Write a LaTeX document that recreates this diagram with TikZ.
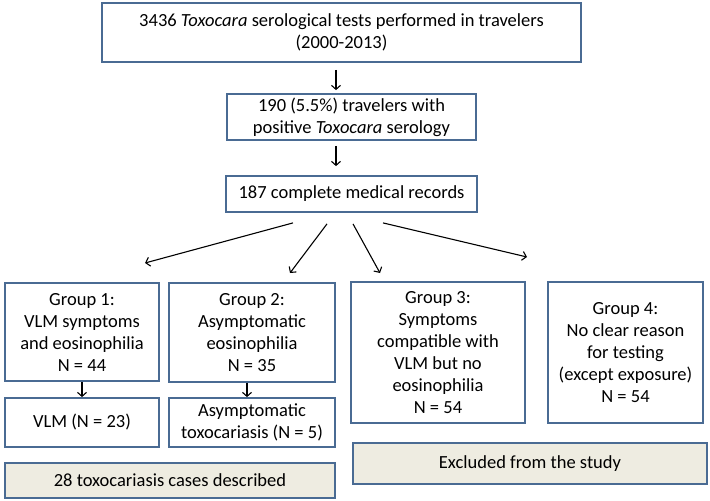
\documentclass[tikz,border=0pt]{standalone}
\usepackage{fontspec}
\setmainfont{Carlito}
\usetikzlibrary{arrows.meta}
\definecolor{boxline}{HTML}{4A6B93}
\definecolor{boxfill}{HTML}{EEECE1}
\tikzset{
  stage/.style={draw=boxline,line width=1.8pt,fill=white,align=center,inner sep=0pt,
    font=\fontsize{18.5}{22}\selectfont},
  summary/.style={stage,fill=boxfill},
  flow/.style={-{Straight Barb[length=4pt,width=9pt]},line width=1.1pt}
}

\begin{document}
\begin{tikzpicture}[x=1pt,y=-1pt]
\useasboundingbox (0,0) rectangle (710,501);

% top of the flow
\node[stage,minimum width=479pt,minimum height=59pt] (tests) at (341.5,32.5)
  {3436 \textit{Toxocara} serological tests performed in travelers\\(2000-2013)};
\node[stage,minimum width=249pt,minimum height=46pt] (positive) at (351.5,117)
  {190 (5.5\%) travelers with\\positive \textit{Toxocara} serology};
\node[stage,minimum width=251pt,minimum height=36pt] (records) at (351.5,194)
  {187 complete medical records};

\draw[flow] ([xshift=-5.5pt,yshift=-7pt]tests.south) -- ([xshift=-15.5pt,yshift=3pt]positive.north);
\draw[flow] ([xshift=-15.5pt,yshift=-5pt]positive.south) -- ([xshift=-15.5pt,yshift=9pt]records.north);

% the four groups
\node[stage,minimum width=154pt,minimum height=98pt] (grpA) at (82,332)
  {Group 1:\\VLM symptoms\\and eosinophilia\\N = 44};
\node[stage,minimum width=166pt,minimum height=99pt] (grpB) at (252,332.5)
  {Group 2:\\Asymptomatic\\eosinophilia\\N = 35};
\node[stage,minimum width=174pt,minimum height=141pt] (grpC) at (438,352.5)
  {Group 3:\\Symptoms\\compatible with\\VLM but no\\eosinophilia\\N = 54};
\node[stage,minimum width=155pt,minimum height=141pt] (grpD) at (625.5,352.5)
  {Group 4:\\No clear reason\\for testing\\(except exposure)\\N = 54};

\coordinate (fA) at (145,263);
\coordinate (fB) at (290,273);
\coordinate (fC) at (380,273);
\coordinate (fD) at (527,257);
\draw[flow] ([xshift=-58.5pt,yshift=-10pt]records.south) -- (fA);
\draw[flow] ([xshift=-24.5pt,yshift=-11pt]records.south) -- (fB);
\draw[flow] ([xshift=1.5pt,yshift=-11pt]records.south) -- (fC);
\draw[flow] ([xshift=31.5pt,yshift=-10pt]records.south) -- (fD);

% outcomes
\node[stage,minimum width=154pt,minimum height=49pt] (vlm) at (82,422.5)
  {VLM (N = 23)};
\node[stage,minimum width=166pt,minimum height=49pt] (asym) at (252,422.5)
  {Asymptomatic\\toxocariasis (N = 5)};
\draw[flow] (grpA.south) -- (vlm.north);
\draw[flow] ([xshift=-5pt]grpB.south) -- ([xshift=-5pt]asym.north);

\node[summary,minimum width=330pt,minimum height=35pt] (cases) at (170,480.5)
  {28 toxocariasis cases described};
\node[summary,minimum width=354pt,minimum height=41pt] (excluded) at (530,463.5)
  {Excluded from the study};
\end{tikzpicture}
\end{document}
